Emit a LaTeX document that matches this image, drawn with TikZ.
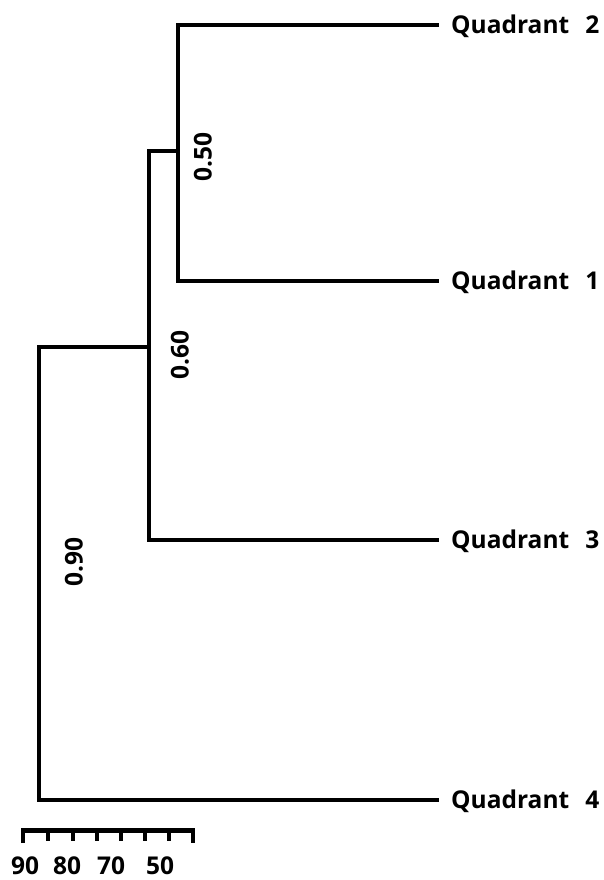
\documentclass[tikz,border=0pt]{standalone}
\usepackage{fontspec}
\setmainfont{Open Sans}
\begin{document}
\begin{tikzpicture}[x=1pt,y=-1pt,
  branch/.style={line width=4.5pt,line cap=rect,line join=miter},
  leaflabel/.style={anchor=west,font=\fontsize{24.5}{28}\selectfont\bfseries,inner sep=0pt},
  dist/.style={rotate=90,font=\fontsize{24.5}{28}\selectfont\bfseries,inner sep=0pt},
  scalelabel/.style={font=\fontsize{24.5}{28}\selectfont\bfseries,inner sep=0pt},
  tickline/.style={line width=4.5pt}]
\useasboundingbox (0,0) rectangle (603,880);
% leaves
\coordinate (q2) at (437,25);
\coordinate (q1) at (437,281);
\coordinate (q3) at (437,540);
\coordinate (q4) at (437,800);
% internal nodes
\coordinate (n50) at (178,151);
\coordinate (n60) at (149,347);
\coordinate (n90) at (39,347);
% tree
\draw[branch] (q2) -| (n50) |- (q1);
\draw[branch] (n50) -- (n60 |- n50) -- (n60 |- q3) -- (q3);
\draw[branch] (n60) -- (n90) |- (q4);
% leaf labels
\node[leaflabel] (l2) at (451,26) {Quadrant\hspace{16pt}2};
\node[leaflabel] (l1) at (451,282) {Quadrant\hspace{16pt}1};
\node[leaflabel] (l3) at (451,541) {Quadrant\hspace{16pt}3};
\node[leaflabel] (l4) at (451,801) {Quadrant\hspace{16pt}4};
% distances
\node[dist] (d50) at (203,157) {0.50};
\node[dist] (d60) at (180,355) {0.60};
\node[dist] (d90) at (74,562) {0.90};
% scale bar
\coordinate (sL) at (23,843);
\coordinate (sR) at (193,843);
\draw[tickline,line join=miter] (sL) -- (23,830.5) -- (193,830.5) -- (sR);
\foreach \x in {48,73,97,121,145,169}{
  \draw[tickline] (\x,830.5) -- (\x,841);
}
\node[scalelabel] (s90) at (25,866) {90};
\node[scalelabel] (s80) at (67,866) {80};
\node[scalelabel] (s70) at (111,866) {70};
\node[scalelabel] (s50) at (160,866) {50};
\end{tikzpicture}
\end{document}
